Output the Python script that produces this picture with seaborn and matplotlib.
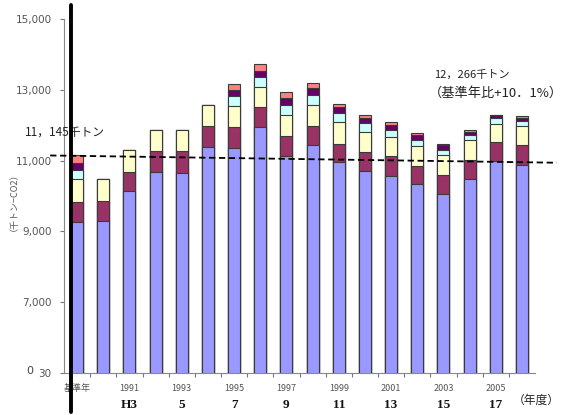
import matplotlib
matplotlib.use("Agg")
import matplotlib.pyplot as plt
import matplotlib.transforms as mtransforms
import numpy as np
import pandas as pd
import seaborn as sns

# Categories: base year, then fiscal years 1990-2006
years = ["基準年"] + [str(y) for y in range(1990, 2007)]

# Emission components (thousand t-CO2), bottom to top
co2_energy = [9262, 9290, 10135, 10670, 10650, 11386, 11358, 11938, 11121, 11451,
              10963, 10699, 10577, 10344, 10062, 10485, 10980, 10887]
co2_other = [575, 570, 547, 592, 610, 600, 580, 575, 564, 535,
             516, 535, 544, 515, 524, 523, 535, 544]
methane_n2o = [648, 630, 628, 611, 613, 591, 592, 552, 591, 583,
               600, 574, 547, 564, 575, 584, 527, 555]
hfc = [261, 0, 0, 0, 0, 0, 301, 293, 293, 282,
       265, 254, 205, 169, 149, 140, 148, 121]
pfc = [189, 0, 0, 0, 0, 0, 151, 177, 186, 186,
       169, 141, 141, 140, 141, 76, 86, 99]
sf6 = [210, 0, 0, 0, 0, 0, 189, 197, 189, 169,
       93, 93, 65, 48, 28, 46, 20, 60]

layers = [co2_energy, co2_other, methane_n2o, hfc, pfc, sf6]
colors = ["#9999FF", "#993366", "#FFFFCC", "#CCFFFF", "#660066", "#FF8080"]

# Tick labels
year_ticks = ["基準年", "1991", "1993", "1995", "1997", "1999", "2001", "2003", "2005"]
heisei_ticks = ["H3", "5", "7", "9", "11", "13", "15", "17"]
y_ticks = [5000, 7000, 9000, 11000, 13000, 15000]
y_tick_labels = ["30", "7,000", "9,000", "11,000", "13,000", "15,000"]

# Base-year reference line (start / end levels)
base_line_x = [-1.03, 18.33]
base_line_y = [11145, 10940]

sns.set_style("white")
plt.rcParams["font.family"] = ["Noto Sans CJK JP", "DejaVu Sans"]

fig = plt.figure(figsize=(5.63, 4.15), dpi=100)
ax = fig.add_axes([64 / 563, 1 - 373 / 415, (535 - 64) / 563, (373 - 19) / 415])

df = pd.DataFrame({"year": years})
cum = np.cumsum(np.array(layers), axis=0)
# Draw cumulative totals from the top layer down so each segment overlays
for i in range(len(layers) - 1, -1, -1):
    df["total"] = cum[i]
    sns.barplot(data=df, x="year", y="total", order=years, color=colors[i],
                width=0.46, edgecolor="#3a3a3a", linewidth=0.8,
                saturation=1, ax=ax, zorder=2)

ax.set_xlim(-0.5, 17.5)
ax.set_ylim(5000, 15000)
ax.set_xlabel("")
ax.set_ylabel("")

# Y axis
ax.set_yticks(y_ticks)
ax.set_yticklabels(y_tick_labels, fontsize=7.5, color="#555555", family="DejaVu Sans")
ax.tick_params(axis="y", length=3, width=0.8, color="#777777", direction="out", left=True, pad=6)
fig.text(30 / 563, 1 - 371 / 415, "0", ha="center", va="center",
         fontsize=8, color="#444444", family="DejaVu Sans")

# X axis: labels at every other bar, ticks at category boundaries
label_pos = [0] + list(range(2, 17, 2))
ax.set_xticks(label_pos)
ax.set_xticklabels(year_ticks, fontsize=6.5, color="#555555")
ax.tick_params(axis="x", length=0, pad=8)
ax.set_xticks(np.arange(0.5, 17.5, 1), minor=True)
ax.tick_params(axis="x", which="minor", length=3, width=0.8, color="#777777", direction="out", bottom=True)

xt = mtransforms.blended_transform_factory(ax.transData, ax.transAxes)
for pos, lab in zip(range(2, 17, 2), heisei_ticks):
    ax.text(pos, -0.09, lab, transform=xt, ha="center", va="center",
            fontsize=9.5, fontweight="bold", family="Liberation Serif", color="#111111")
fig.text(560 / 563, 1 - 400 / 415, "（年度）", ha="right", va="center",
         fontsize=8.5, color="#222222")

for side in ["top", "right"]:
    ax.spines[side].set_visible(False)
for side in ["left", "bottom"]:
    ax.spines[side].set_color("#888888")
    ax.spines[side].set_linewidth(0.8)

# Thick marker line at the base year
ax.plot([-0.24, -0.24], [-0.11, 1.04], transform=xt, color="black",
        linewidth=2.8, clip_on=False, zorder=5)

# Dashed base-year level
ax.plot(base_line_x, base_line_y, linestyle=(0, (3.5, 2)), color="black",
        linewidth=1.3, clip_on=False, zorder=4)

# Annotations
ax.text(-1.98, 11790, "11，145千トン", fontsize=8.5, color="#222222",
        ha="left", va="center", clip_on=False)
ax.text(15.1, 13420, "12，266千トン", fontsize=8, color="#222222", ha="center", va="center")
ax.text(16.0, 12915, "（基準年比+10．1%）", fontsize=9.5, color="#222222",
        ha="center", va="center", clip_on=False)

fig.text(9 / 563, 1 - 197 / 415, "（千トン−CO2）", rotation=90, fontsize=6.5,
         color="#555555", ha="center", va="center")

fig.savefig("out.png", dpi=100)
